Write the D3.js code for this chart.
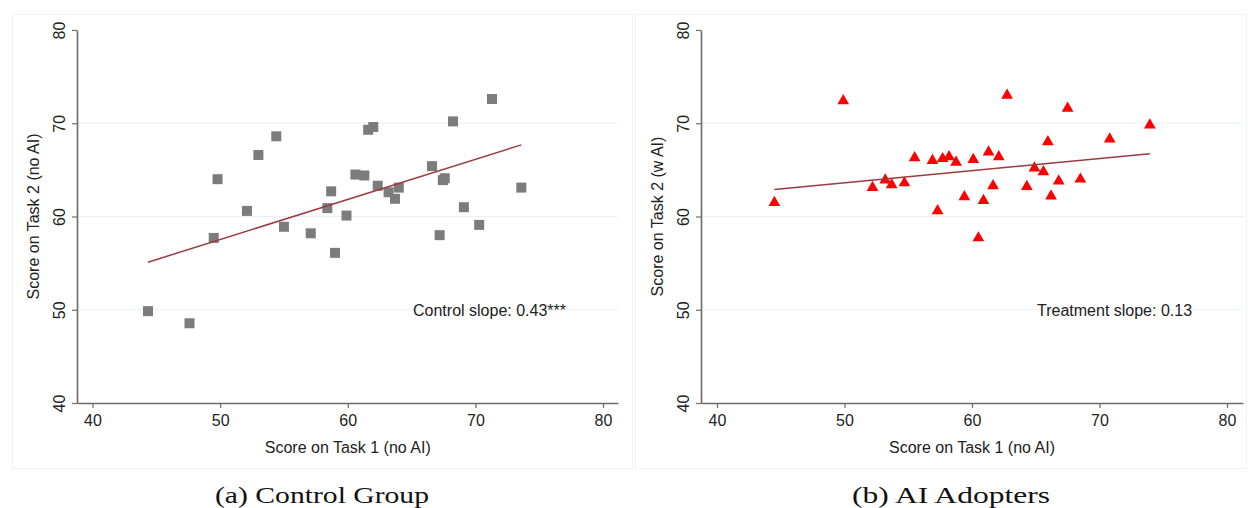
<!DOCTYPE html>
<html>
<head>
<meta charset="utf-8">
<script src="https://cdn.jsdelivr.net/npm/d3@7"></script>
<style>
  html, body { margin: 0; padding: 0; background: #fff; }
  svg { display: block; }
  text { font-family: "Liberation Sans", Arial, sans-serif; fill: #222; }
  .caption { font-family: "Liberation Serif", "DejaVu Serif", serif; fill: #111; }
</style>
</head>
<body>
<svg id="chart" width="1248" height="508"></svg>
<script>
// Control group: scores on Task 1 (no AI) and Task 2 (no AI)
const controlTask1 = [44.35, 47.6, 49.5, 49.8, 52.1, 53.0, 54.4, 55.0, 57.1, 58.7,
                      58.4, 59.9, 59.0, 60.6, 61.3, 61.6, 62.0, 62.35, 63.2, 64.0,
                      63.7, 66.6, 67.45, 67.6, 68.25, 69.1, 67.2, 70.3, 71.3, 73.6];
const controlTask2 = [49.85, 48.55, 57.7, 64.0, 60.6, 66.6, 68.6, 58.9, 58.2, 62.7,
                      60.9, 60.1, 56.1, 64.5, 64.4, 69.3, 69.6, 63.3, 62.6, 63.1,
                      61.9, 65.4, 63.9, 64.1, 70.2, 61.0, 58.0, 59.1, 72.6, 63.1];

// AI adopters: scores on Task 1 (no AI) and Task 2 (with AI)
const adopterTask1 = [44.5, 49.9, 52.2, 53.2, 53.7, 54.7, 55.5, 56.9, 57.3, 57.7,
                      58.2, 58.75, 60.1, 61.3, 62.1, 59.4, 60.9, 61.65, 60.5, 62.75,
                      64.3, 64.9, 65.6, 65.95, 66.2, 66.8, 67.5, 68.5, 70.8, 73.95];
const adopterTask2 = [61.5, 72.4, 63.1, 63.9, 63.4, 63.6, 66.3, 66.0, 60.6, 66.2,
                      66.4, 65.8, 66.1, 66.9, 66.4, 62.1, 61.7, 63.3, 57.7, 73.0,
                      63.2, 65.2, 64.8, 68.0, 62.2, 63.8, 71.6, 64.0, 68.3, 69.8];

// Fitted lines: slope and intercept per group
const fitSlopes = [0.43, 0.13];
const fitIntercepts = [36.03, 57.12];
const slopeLabels = ["Control slope: 0.43***", "Treatment slope: 0.13"];

// Axis ticks, titles and captions
const xTicks = [40, 50, 60, 70, 80];
const yTicks = [40, 50, 60, 70, 80];
const yGrid = [50, 60, 70];
const xTitles = ["Score on Task 1 (no AI)", "Score on Task 1 (no AI)"];
const yTitles = ["Score on Task 2 (no AI)", "Score on Task 2 (w AI)"];
const captions = ["(a) Control Group", "(b) AI Adopters"];

const svg = d3.select("#chart");

const panels = [
  { frame: [12, 14, 620, 454], axisLeft: 77, axisRight: 618, x40: 92.5, x80: 603,
    xs: controlTask1, ys: controlTask2, marker: "square", color: "#7c7c7c",
    labelX: 413, captionX: 322, captionW: 214 },
  { frame: [635, 14, 611, 454], axisLeft: 701, axisRight: 1243, x40: 717, x80: 1227,
    xs: adopterTask1, ys: adopterTask2, marker: "triangle", color: "#ff0000",
    labelX: 1037, captionX: 951, captionW: 198 }
];

const yTop = 30, yBottom = 403;
const axisColor = "#6b6b6b";
const fs = 16;

panels.forEach((p, i) => {
  const g = svg.append("g");

  // faint panel frame
  g.append("rect")
    .attr("x", p.frame[0] + 0.5).attr("y", p.frame[1] + 0.5)
    .attr("width", p.frame[2]).attr("height", p.frame[3])
    .attr("fill", "none").attr("stroke", "#f1f4f7").attr("stroke-width", 1);

  const x = d3.scaleLinear().domain([40, 80]).range([p.x40, p.x80]);
  const y = d3.scaleLinear().domain([40, 80]).range([yBottom, yTop]);

  // horizontal grid lines
  g.selectAll(".grid").data(yGrid).join("line")
    .attr("x1", p.axisLeft).attr("x2", p.axisRight)
    .attr("y1", d => y(d)).attr("y2", d => y(d))
    .attr("stroke", "#e9f0f5").attr("stroke-width", 1.2);

  // y axis
  const yAxis = g.append("g")
    .attr("transform", `translate(${p.axisLeft},0)`)
    .call(d3.axisLeft(y).tickValues(yTicks).tickSize(5).tickPadding(10).tickSizeOuter(0));
  yAxis.select(".domain").attr("stroke", axisColor).attr("stroke-width", 1.6);
  yAxis.selectAll(".tick line").attr("stroke", axisColor).attr("stroke-width", 1.2);
  yAxis.selectAll(".tick text")
    .attr("font-size", fs).attr("fill", "#222")
    .attr("text-anchor", "middle")
    .attr("x", 0).attr("y", 0).attr("dy", 0)
    .attr("transform", "translate(-12,0) rotate(-90)");

  // x axis spanning the full plot width
  const xAxisRange = d3.scaleLinear()
    .domain([x.invert(p.axisLeft), x.invert(p.axisRight)])
    .range([p.axisLeft, p.axisRight]);
  const xAxis = g.append("g")
    .attr("transform", `translate(0,${yBottom})`)
    .call(d3.axisBottom(xAxisRange).tickValues(xTicks).tickSize(5).tickPadding(7).tickSizeOuter(0));
  xAxis.select(".domain").attr("stroke", axisColor).attr("stroke-width", 1.6);
  xAxis.selectAll(".tick line").attr("stroke", axisColor).attr("stroke-width", 1.2);
  xAxis.selectAll(".tick text").attr("font-size", fs).attr("fill", "#222");

  // axis titles
  g.append("text")
    .attr("x", x(60)).attr("y", 453)
    .attr("text-anchor", "middle").attr("font-size", fs)
    .text(xTitles[i]);
  g.append("text")
    .attr("transform", `translate(${p.axisLeft - 38},${(yTop + yBottom) / 2}) rotate(-90)`)
    .attr("text-anchor", "middle").attr("font-size", fs)
    .text(yTitles[i]);

  // scatter markers
  const pts = p.xs.map((v, k) => [v, p.ys[k]]);
  const sym = p.marker === "square"
    ? d3.symbol().type(d3.symbolSquare).size(100)
    : d3.symbol().type(d3.symbolTriangle).size(60);
  g.selectAll(".pt").data(pts).join("path")
    .attr("d", sym)
    .attr("transform", d => `translate(${x(d[0])},${y(d[1])})`)
    .attr("fill", p.color);

  // fitted line over the observed range of Task 1 scores
  const [xmin, xmax] = d3.extent(p.xs);
  const fit = v => fitIntercepts[i] + fitSlopes[i] * v;
  g.append("line")
    .attr("x1", x(xmin)).attr("y1", y(fit(xmin)))
    .attr("x2", x(xmax)).attr("y2", y(fit(xmax)))
    .attr("stroke", "#9b3a3f").attr("stroke-width", 1.5);

  // slope annotation
  g.append("text")
    .attr("x", p.labelX).attr("y", y(50) + 6)
    .attr("font-size", fs)
    .text(slopeLabels[i]);

  // panel caption
  g.append("text")
    .attr("class", "caption")
    .attr("x", p.captionX).attr("y", 503)
    .attr("text-anchor", "middle").attr("font-size", 23)
    .attr("textLength", p.captionW).attr("lengthAdjust", "spacingAndGlyphs")
    .text(captions[i]);
});
</script>
</body>
</html>
